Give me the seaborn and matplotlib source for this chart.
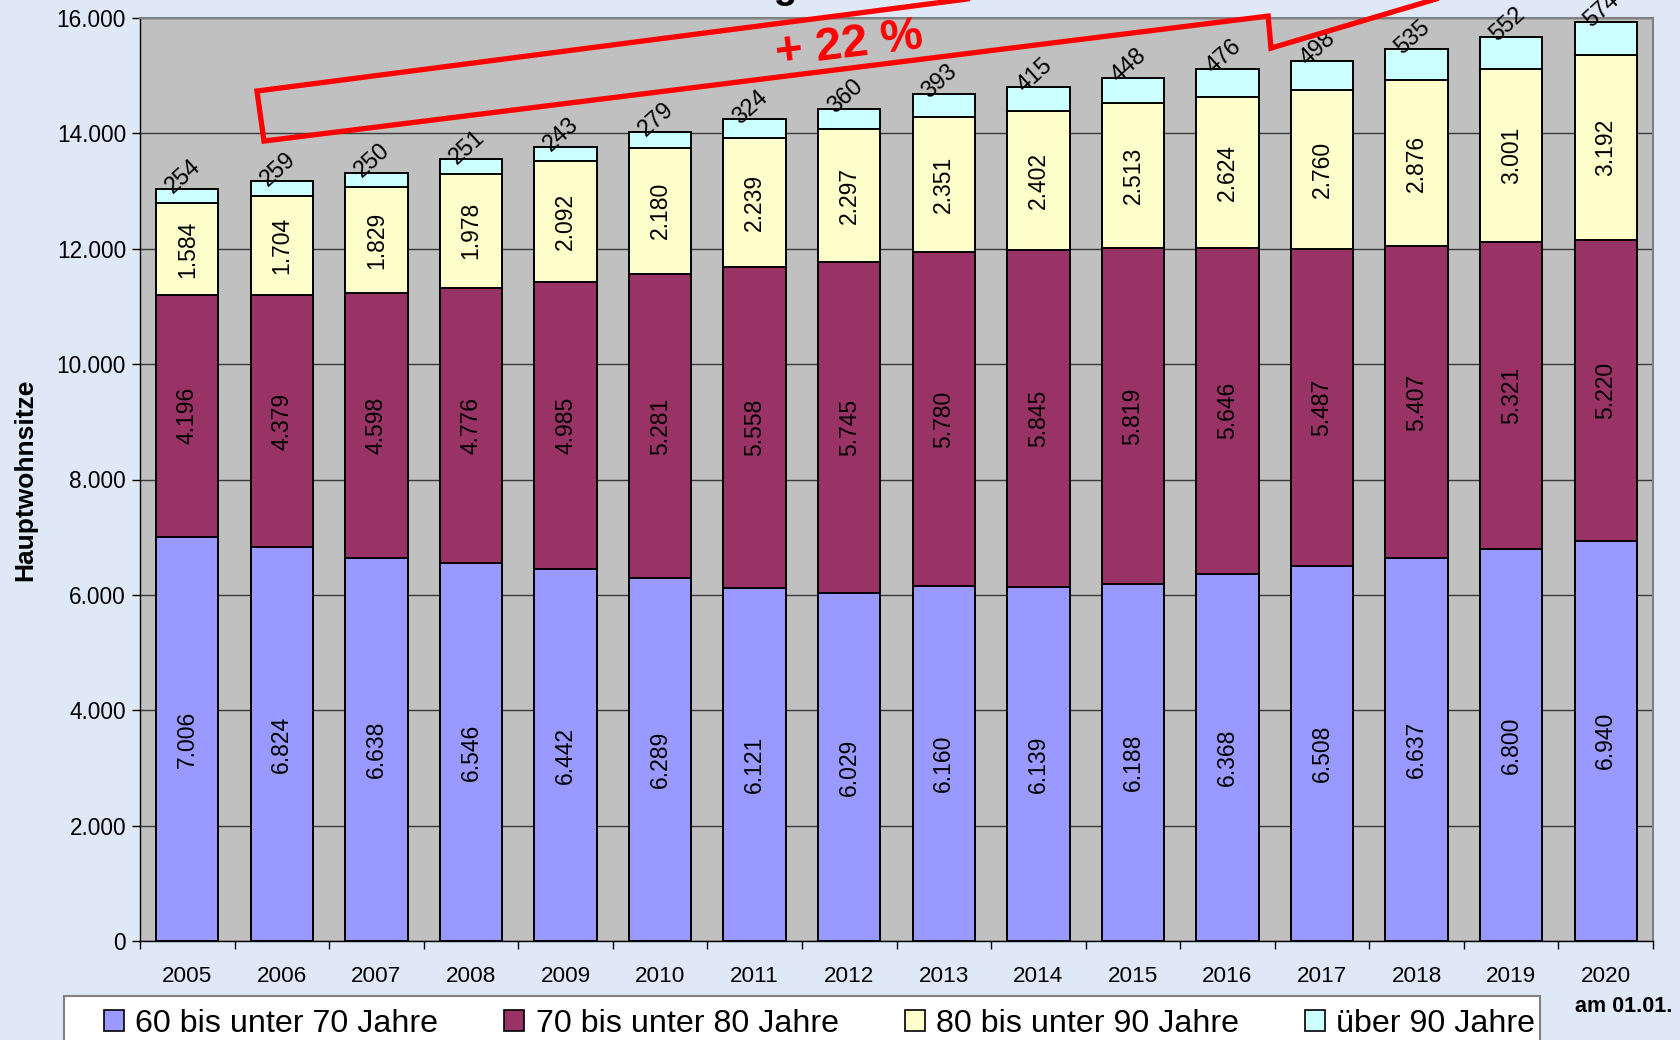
import numpy as np
import pandas as pd
import matplotlib
matplotlib.use("Agg")
import matplotlib.pyplot as plt
import seaborn as sns
from matplotlib.patches import Patch, Rectangle
from matplotlib.lines import Line2D
from matplotlib.ticker import FuncFormatter, FixedLocator

# ================== Data ==================
years = [str(y) for y in range(2005, 2021)]
age_60_70 = [7006, 6824, 6638, 6546, 6442, 6289, 6121, 6029, 6160, 6139, 6188, 6368, 6508, 6637, 6800, 6940]
age_70_80 = [4196, 4379, 4598, 4776, 4985, 5281, 5558, 5745, 5780, 5845, 5819, 5646, 5487, 5407, 5321, 5220]
age_80_90 = [1584, 1704, 1829, 1978, 2092, 2180, 2239, 2297, 2351, 2402, 2513, 2624, 2760, 2876, 3001, 3192]
age_90_plus = [254, 259, 250, 251, 243, 279, 324, 360, 393, 415, 448, 476, 498, 535, 552, 574]

series_names = ["60 bis unter 70 Jahre", "70 bis unter 80 Jahre", "80 bis unter 90 Jahre", "über 90 Jahre"]
series_colors = ["#9999FF", "#993366", "#FFFFCC", "#CCFFFF"]

df = pd.DataFrame({"year": years, "s1": age_60_70, "s2": age_70_80, "s3": age_80_90, "s4": age_90_plus})
df["c1"] = df["s1"]
df["c2"] = df["c1"] + df["s2"]
df["c3"] = df["c2"] + df["s3"]
df["c4"] = df["c3"] + df["s4"]

def de_fmt(v):
    return f"{int(v):,}".replace(",", ".")

# ================== Figure ==================
plt.rcParams["font.family"] = ["Liberation Sans", "DejaVu Sans"]
fig = plt.figure(figsize=(16.8, 10.4), dpi=100, facecolor="#DFE8F7")
ax = fig.add_axes([140 / 1680, 1 - 941 / 1040, 1513 / 1680, 923 / 1040])
ax.set_facecolor("#C0C0C0")

# stacked bars: draw cumulative totals from top segment down
for col, color in zip(["c4", "c3", "c2", "c1"], series_colors[::-1]):
    sns.barplot(data=df, x="year", y=col, color=color, width=0.66,
                edgecolor="black", linewidth=1.4, saturation=1, ax=ax, zorder=3)

# segment labels (vertical)
for i in range(len(years)):
    bottoms = [0, df["c1"][i], df["c2"][i]]
    heights = [df["s1"][i], df["s2"][i], df["s3"][i]]
    for b, h in zip(bottoms, heights):
        ax.text(i, b + h / 2, de_fmt(h), rotation=90, ha="center", va="center",
                fontsize=16.5, color="black", zorder=5)
    ax.annotate(de_fmt(df["s4"][i]), xy=(i, df["c4"][i]), xytext=(-3, 9),
                textcoords="offset points", rotation=42, rotation_mode="anchor",
                ha="center", va="center", fontsize=16.8, zorder=5, annotation_clip=False)

# ================== Axes styling ==================
ax.set_xlim(-0.5, len(years) - 0.5)
ax.set_ylim(0, 16000)
ax.set_yticks(np.arange(0, 16001, 2000))
ax.yaxis.set_major_formatter(FuncFormatter(lambda v, p: de_fmt(v)))
ax.yaxis.grid(True, color="#3a3a3a", linewidth=1.0, zorder=1)
ax.set_axisbelow(True)
ax.xaxis.set_minor_locator(FixedLocator(np.arange(-0.5, len(years), 1.0)))
ax.tick_params(axis="x", which="major", length=0, pad=18, labelsize=16.2)
ax.tick_params(axis="x", which="minor", length=6, width=1, color="black", direction="out")
ax.tick_params(axis="y", length=6, width=1, color="black", pad=4, labelsize=16.3)
ax.set_xlabel("")
ax.set_ylabel("Hauptwohnsitze", fontsize=19, fontweight="bold")
ax.yaxis.set_label_coords(-0.068, 0.5)
for side in ["top", "right"]:
    ax.spines[side].set_color("#808080")
    ax.spines[side].set_linewidth(1.5)
for side in ["left", "bottom"]:
    ax.spines[side].set_color("black")
    ax.spines[side].set_linewidth(1.0)

# ================== Red arrow annotation ==================
arrow_x = [10.18, 0.737, 0.811, 11.43, 11.46, 14.94]
arrow_y = [16740, 14734, 13867, 16033, 15478, 17175]
ax.add_line(Line2D(arrow_x, arrow_y, color="#FF0000", linewidth=3.8,
                   solid_joinstyle="miter", clip_on=False, zorder=6))
ax.text(7.0, 15530, "+ 22 %", color="#FF0000", fontsize=34, fontweight="bold",
        rotation=7, ha="center", va="center", clip_on=False, zorder=7)

# clipped title fragment at the very top
fig.text(798 / 1680, 1 + 2 / 1040, "Entwicklung", ha="right", va="baseline",
         fontsize=28, fontweight="bold")

# ================== Legend ==================
fig.patches.append(Rectangle((64 / 1680, -0.01), (1540 - 64) / 1680, 0.01 + (1040 - 996) / 1040,
                             transform=fig.transFigure, facecolor="white",
                             edgecolor="#808080", linewidth=1.5, zorder=0))
handles = [Patch(facecolor=c, edgecolor="black", linewidth=1.2) for c in series_colors]
leg = fig.legend(handles, series_names, loc="center left",
                 bbox_to_anchor=(104 / 1680, 1 - 1024 / 1040), ncol=4, frameon=False,
                 fontsize=23.2, handlelength=0.62, handleheight=0.62, handletextpad=0.35,
                 columnspacing=2.05, borderpad=0, borderaxespad=0)

fig.text(1575 / 1680, 1 - 1007 / 1040, "am 01.01.", ha="left", va="center",
         fontsize=15.5, fontweight="bold")

fig.savefig("out.png", dpi=100, facecolor=fig.get_facecolor())
